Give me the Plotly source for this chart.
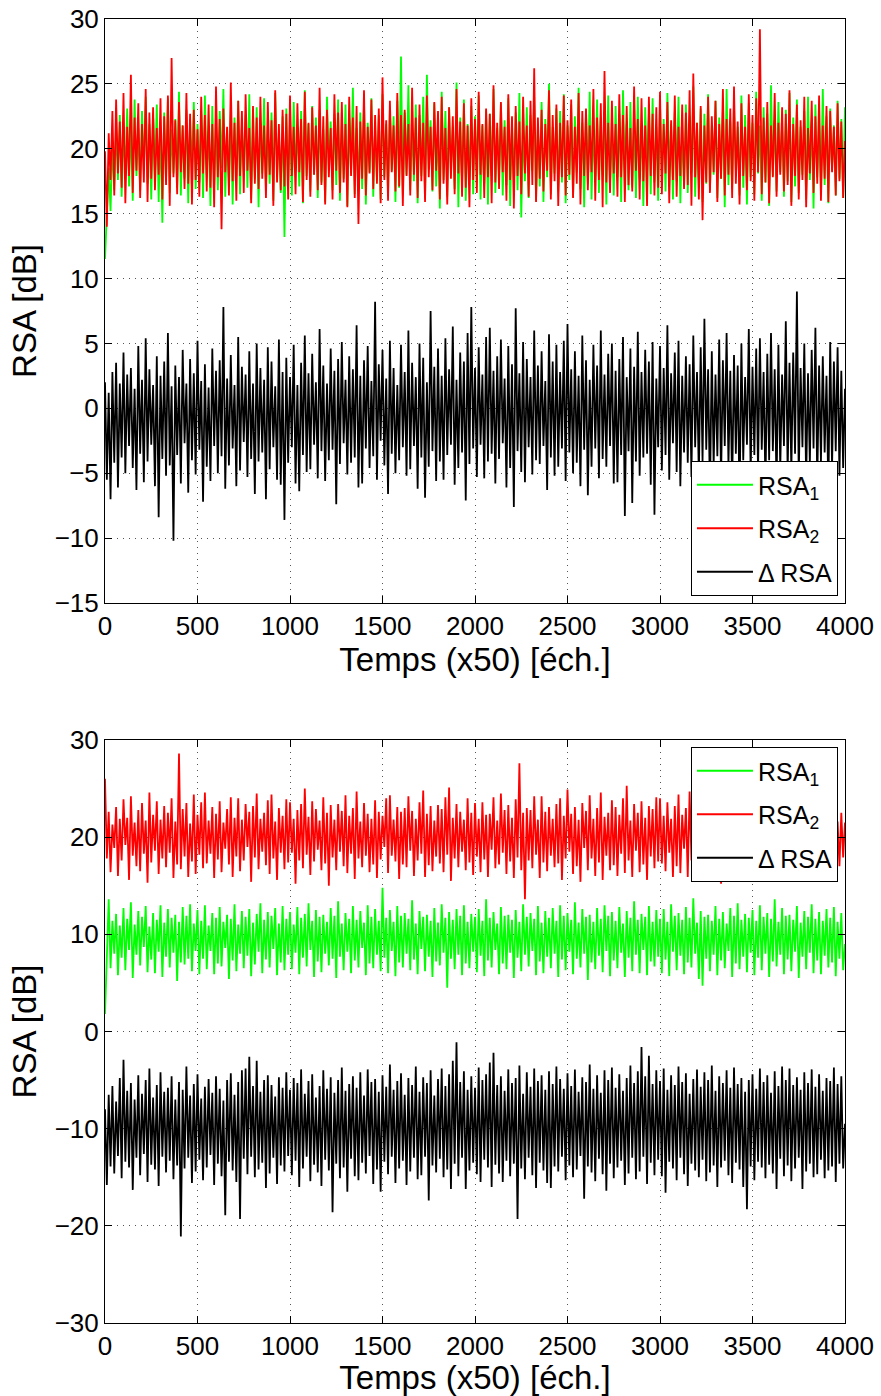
import plotly.graph_objects as go

# Values.  Each noisy series is stored as two hand-read
# lists: its successive peaks (at t = 0, 20, 40, ...) and the troughs between
# them (at t = 10, 30, 50, ...).  Time unit: x50 samples.
step = 10

# ---------------- top panel ----------------
rsa1_top_peaks = [
    11.5, 18.5, 20.5, 21.8, 22.6, 21.4, 23.1, 22.0, 23.8, 21.6, 22.9, 24.0, 21.9, 22.5, 23.4, 21.7, 22.8, 23.9, 21.5, 22.3, 24.4, 21.8, 23.0, 22.2, 23.6,
    21.9, 22.7, 24.1, 21.4, 23.3, 22.1, 22.9, 24.6, 21.6, 23.0, 22.4, 23.7, 21.8, 22.6, 24.2, 21.5, 23.2, 22.0, 23.9, 21.7, 22.8, 24.3, 21.3, 22.5, 23.1,
    22.2, 23.6, 21.6, 22.9, 24.5, 21.9, 23.3, 22.4, 23.0, 21.5, 24.0, 22.1, 22.7, 23.8, 21.8, 23.4, 22.3, 24.7, 21.6, 22.8, 23.5, 22.0, 23.9, 21.7, 22.6,
    24.2, 21.9, 23.1, 22.5, 23.7, 27.1, 22.8, 24.9, 21.8, 23.4, 22.6, 24.0, 25.7, 22.2, 23.5, 21.6, 24.4, 22.9, 23.2, 21.7, 25.1, 22.4, 23.8, 21.9, 23.3,
    22.5, 24.1, 21.8, 23.0, 22.7, 24.6, 21.6, 23.5, 22.2, 23.9, 21.9, 22.8, 24.3, 21.5, 23.2, 22.6, 24.0, 21.8, 23.6, 22.3, 25.0, 21.7, 23.1, 22.9, 24.2,
    21.8, 23.4, 22.5, 24.7, 22.0, 23.0, 24.4, 21.7, 23.8, 22.4, 22.9, 24.1, 21.6, 23.3, 22.7, 24.5, 21.9, 23.6, 22.2, 24.0, 21.8, 23.2, 22.6, 23.9, 21.7,
    23.5, 22.3, 24.3, 21.9, 22.8, 24.0, 21.6, 23.4, 22.5, 24.8, 22.0, 23.1, 22.7, 24.2, 21.8, 23.7, 22.4, 23.0, 24.6, 22.1, 23.3, 21.7, 24.1, 22.6, 23.5,
    22.0, 24.4, 21.8, 23.2, 22.7, 24.9, 22.2, 23.6, 21.9, 23.0, 24.3, 22.4, 23.8, 21.7, 22.9, 24.0, 22.1, 23.4, 21.9, 24.6, 22.5, 23.1, 21.8, 23.7, 22.3,
    23.2,
]
rsa1_top_troughs = [
    14.5, 15.2, 16.8, 17.6, 16.3, 18.2, 17.1, 16.0, 17.9, 16.7, 18.4, 17.3, 16.1, 17.8, 15.9, 14.3, 17.5, 16.6, 18.1, 17.0, 16.4, 17.7, 15.8, 18.3, 16.9,
    17.4, 16.2, 18.0, 15.6, 17.2, 16.8, 18.5, 16.3, 17.6, 15.7, 17.9, 16.5, 18.2, 17.0, 16.1, 17.7, 15.5, 18.1, 16.9, 17.3, 16.0, 17.8, 16.6, 13.2, 17.5,
    16.4, 18.3, 17.1, 15.8, 17.9, 16.7, 18.0, 16.2, 17.4, 15.9, 18.4, 16.8, 17.2, 16.0, 17.7, 15.6, 18.1, 16.5, 17.3, 16.9, 15.7, 18.2, 16.3, 17.6, 16.1,
    17.8, 16.6, 18.3, 15.9, 17.0, 16.4, 18.0, 16.8, 17.5, 15.8, 17.9, 16.2, 18.4, 16.7, 17.1, 15.4, 17.6, 16.3, 18.1, 16.9, 15.5, 17.4, 16.0, 17.8, 16.5,
    18.2, 16.1, 17.3, 15.7, 17.9, 16.6, 18.0, 16.4, 17.2, 15.6, 17.7, 16.8, 14.7, 17.5, 16.2, 18.3, 16.0, 17.1, 15.9, 17.8, 16.5, 18.1, 16.7, 17.4, 15.8,
    17.6, 16.3, 18.2, 16.9, 15.5, 17.3, 16.1, 17.9, 16.6, 18.0, 15.7, 17.2, 16.4, 17.8, 15.9, 18.3, 16.8, 17.0, 16.2, 17.7, 15.6, 18.1, 16.5, 17.4, 16.0,
    17.9, 16.7, 18.4, 16.1, 17.5, 15.8, 17.1, 16.6, 18.2, 16.3, 17.6, 15.9, 17.3, 16.8, 18.0, 16.2, 17.7, 15.5, 17.2, 16.9, 18.3, 16.4, 17.0, 15.7, 17.8,
    16.5, 18.1, 16.0, 17.4, 15.6, 17.9, 16.7, 18.2, 16.3, 17.5, 15.9, 17.1, 16.6, 18.0, 16.1, 17.6, 15.4, 17.8, 16.8, 17.2, 15.8, 18.3, 16.4, 17.7, 16.2,
]
rsa2_top_peaks = [
    19.8, 21.2, 22.9, 23.8, 22.1, 24.3, 21.7, 25.7, 22.4, 23.5, 21.9, 24.6, 22.8, 23.2, 21.6, 23.9, 22.5, 24.1, 27.0, 22.2, 23.6, 21.8, 24.3, 22.7, 23.0,
    21.5, 24.0, 22.6, 23.4, 21.9, 24.8, 22.3, 23.1, 21.7, 25.1, 22.0, 23.7, 22.9, 24.2, 21.6, 23.3, 22.4, 24.0, 21.8, 23.6, 22.2, 24.5, 21.9, 23.0, 22.7,
    24.1, 21.7, 23.5, 22.3, 24.4, 22.0, 23.2, 21.8, 24.7, 22.5, 23.0, 21.6, 24.2, 22.8, 23.6, 21.9, 24.0, 22.4, 23.3, 22.1, 24.5, 21.7, 23.8, 22.6, 23.1,
    25.5, 22.2, 23.7, 21.8, 24.3, 22.6, 23.0, 21.9, 24.7, 22.4, 23.4, 22.0, 24.1, 21.7, 23.6, 22.9, 24.0, 21.6, 23.2, 22.5, 24.6, 22.1, 23.5, 21.8, 23.9,
    22.3, 24.4, 21.9, 23.1, 22.7, 24.9, 22.0, 23.6, 21.7, 24.2, 22.5, 23.3, 22.1, 24.0, 21.8, 23.7, 26.2, 22.4, 23.0, 21.9, 24.5, 22.6, 23.4, 22.0, 24.1,
    22.2, 23.8, 21.7, 24.3, 22.9, 23.1, 21.8, 24.6, 22.4, 23.5, 26.0, 22.0, 23.7, 21.9, 24.2, 22.6, 23.3, 21.6, 24.8, 22.3, 23.9, 21.8, 24.0, 22.7, 23.2,
    24.4, 21.9, 23.6, 22.2, 24.1, 21.7, 23.4, 22.8, 24.5, 25.8, 22.0, 23.3, 21.8, 24.0, 22.5, 23.7, 21.9, 24.6, 22.3, 23.1, 24.8, 22.1, 23.5, 21.7, 24.2,
    22.6, 23.9, 29.2, 22.4, 23.6, 21.8, 24.3, 22.0, 23.2, 22.7, 24.5, 21.9, 23.4, 22.2, 24.0, 21.6, 23.7, 22.5, 24.1, 21.8, 23.3, 22.9, 21.7, 23.5, 22.1,
    20.6,
]
rsa2_top_troughs = [
    14.0, 17.6, 16.4, 18.1, 17.0, 15.8, 17.9, 16.6, 18.3, 16.2, 17.4, 15.9, 17.7, 16.8, 18.0, 16.1, 17.2, 15.6, 17.8, 16.5, 18.2, 16.9, 17.3, 15.7, 17.6,
    16.3, 18.1, 16.7, 17.0, 15.5, 17.8, 13.8, 18.2, 16.4, 17.5, 16.0, 17.9, 16.6, 18.3, 15.8, 17.3, 16.9, 17.7, 16.2, 18.0, 15.6, 17.4, 16.8, 17.1, 16.1,
    17.9, 16.5, 18.2, 15.9, 17.6, 16.3, 18.0, 16.8, 17.2, 15.7, 17.8, 16.1, 18.3, 16.6, 17.4, 15.5, 17.9, 16.2, 14.2, 17.7, 16.4, 18.1, 16.9, 17.3, 15.8,
    17.6, 16.0, 18.2, 16.7, 17.1, 15.6, 17.9, 16.4, 18.0, 16.2, 17.5, 15.9, 17.8, 16.8, 18.3, 16.1, 17.3, 15.7, 17.7, 16.5, 18.1, 16.3, 17.0, 15.5, 17.6,
    16.6, 18.0, 16.2, 17.8, 15.8, 17.4, 16.9, 18.2, 16.0, 17.6, 15.4, 17.9, 16.5, 18.1, 16.3, 17.2, 15.9, 17.7, 16.7, 18.3, 16.1, 17.5, 15.6, 17.8, 16.4,
    18.0, 16.2, 17.3, 15.7, 17.9, 16.8, 18.2, 16.0, 17.6, 15.5, 17.4, 16.6, 18.1, 16.3, 17.8, 15.9, 17.2, 16.7, 18.3, 16.1, 17.5, 15.6, 17.9, 16.4, 17.0,
    16.5, 18.1, 15.8, 17.6, 16.3, 17.9, 16.9, 17.2, 15.6, 17.8, 16.1, 14.5, 17.4, 16.6, 18.2, 15.9, 17.7, 16.4, 18.0, 16.2, 17.3, 15.7, 17.9, 16.8, 17.5,
    16.0, 18.2, 16.5, 17.4, 15.8, 17.8, 16.3, 18.0, 16.7, 17.2, 15.6, 17.9, 16.1, 17.6, 15.5, 18.1, 16.6, 17.3, 16.0, 17.7, 15.9, 18.2, 16.4, 17.5, 16.2,
]
drsa_top_peaks = [
    2.0, 1.2, 2.8, 3.5, 1.9, 4.3, 2.6, 3.1, 1.5, 4.8, 2.2, 5.4, 3.0, 1.8, 4.0, 2.5, 3.6, 5.8, 1.7, 3.3, 2.4, 4.5, 1.9, 3.8, 2.7,
    5.2, 2.1, 3.4, 1.6, 4.6, 2.9, 3.7, 7.8, 2.3, 4.1, 1.8, 5.5, 3.2, 2.6, 4.4, 1.9, 5.0, 3.1, 2.2, 4.7, 3.6, 1.7, 5.3, 2.8, 3.9,
    2.4, 4.9, 1.8, 3.5, 5.6, 2.7, 4.2, 2.0, 6.1, 3.3, 1.9, 4.6, 2.9, 3.8, 5.1, 2.2, 4.0, 3.0, 6.4, 2.5, 3.7, 4.8, 2.1, 8.2, 3.4,
    4.5, 2.3, 5.2, 3.1, 1.8, 4.9, 2.8, 6.0, 3.5, 2.4, 5.0, 3.9, 2.0, 7.5, 3.2, 4.6, 2.5, 5.4, 3.0, 6.3, 2.2, 4.3, 3.6, 5.8, 7.8,
    3.1, 4.7, 2.6, 5.5, 6.2, 2.9, 4.0, 5.3, 2.3, 4.8, 3.4, 7.7, 2.7, 5.1, 3.8, 2.4, 6.0, 3.3, 4.4, 2.1, 5.7, 3.6, 4.9, 2.8, 5.2,
    6.5, 3.0, 4.4, 2.5, 5.6, 3.7, 2.2, 4.9, 3.3, 6.0, 2.6, 4.2, 5.0, 2.9, 3.8, 5.5, 2.4, 4.6, 3.2, 5.9, 2.8, 4.5, 3.6, 5.1, 2.3,
    4.8, 3.1, 6.4, 2.7, 4.3, 5.2, 2.5, 4.0, 3.4, 5.6, 2.8, 4.7, 6.9, 3.0, 4.4, 2.6, 5.3, 3.7, 5.8, 2.9, 4.1, 3.3, 5.0, 2.4, 6.1,
    3.2, 4.6, 5.4, 2.8, 4.2, 5.8, 3.0, 4.9, 2.6, 6.7, 3.5, 4.3, 9.0, 3.1, 5.0, 2.7, 4.5, 6.2, 3.3, 4.0, 2.5, 5.1, 3.6, 4.7, 2.9,
    1.5,
]
drsa_top_troughs = [
    -5.5, -7.0, -4.2, -6.1, -3.8, -5.0, -2.9, -4.6, -6.3, -3.5, -5.7, -4.1, -2.8, -6.0, -8.4, -3.9, -5.2, -4.4, -10.2, -3.6, -5.8, -2.7, -6.5, -4.0, -5.1,
    -3.2, -7.2, -4.5, -5.6, -2.9, -5.0, -3.7, -6.2, -4.4, -3.1, -6.0, -4.8, -2.6, -5.3, -3.9, -6.6, -4.1, -3.4, -7.0, -4.7, -3.0, -5.5, -5.9, -8.6, -4.2,
    -3.0, -5.8, -6.4, -3.6, -4.9, -4.7, -2.8, -5.4, -3.3, -5.6, -4.0, -3.2, -7.4, -4.3, -2.7, -5.1, -4.2, -3.8, -6.1, -5.8, -3.1, -4.6, -3.7, -5.5, -2.5,
    -4.4, -6.6, -3.5, -5.0, -4.0, -3.0, -5.2, -4.7, -2.9, -6.2, -3.8, -6.9, -4.5, -3.3, -5.6, -4.1, -5.5, -3.6, -2.8, -5.9, -4.6, -3.4, -7.1, -4.3, -3.1,
    -5.3, -2.8, -5.4, -4.1, -3.5, -5.8, -3.9, -2.7, -6.1, -4.6, -7.6, -3.3, -4.9, -5.7, -3.0, -5.1, -4.0, -4.3, -2.9, -6.3, -3.8, -5.2, -4.5, -3.1, -5.6,
    -3.4, -5.0, -4.2, -6.0, -3.2, -6.7, -4.5, -3.1, -5.4, -3.9, -4.5, -2.9, -5.8, -5.7, -3.6, -8.3, -3.3, -7.3, -4.1, -5.2, -3.8, -3.5, -5.9, -8.2, -3.0,
    -4.8, -3.6, -5.5, -2.7, -4.9, -6.0, -3.4, -4.2, -5.3, -3.0, -5.3, -4.1, -3.2, -6.8, -4.4, -3.7, -5.6, -2.9, -4.4, -6.2, -3.5, -7.5, -4.0, -2.8, -5.1,
    -3.6, -4.9, -3.2, -6.1, -4.0, -3.3, -6.2, -4.7, -2.9, -5.0, -4.9, -3.5, -5.4, -3.0, -5.6, -4.3, -3.1, -5.8, -4.1, -3.4, -6.5, -4.6, -3.3, -5.2, -4.6,
]

# ---------------- bottom panel ----------------
rsa1_bot_peaks = [
    1.8, 13.6, 11.4, 12.1, 10.9, 12.7, 11.6, 13.3, 11.0, 12.4, 11.8, 12.9, 10.8, 12.2, 11.5, 13.0, 11.2, 12.6, 11.7, 12.0, 11.3, 12.8, 11.9, 13.1, 11.1,
    12.5, 11.4, 13.0, 10.9, 12.2, 11.7, 12.8, 11.3, 12.0, 11.6, 13.1, 11.0, 12.4, 11.8, 12.6, 11.2, 12.1, 13.2, 11.5, 12.3, 11.9, 12.7, 11.1, 12.9, 11.6,
    12.3, 11.0, 12.8, 11.7, 12.1, 13.2, 11.4, 12.5, 11.8, 12.0, 11.3, 12.7, 11.9, 13.4, 11.1, 12.2, 11.6, 12.9, 11.5, 12.4, 11.2, 13.0, 11.8, 12.6, 11.4,
    14.8, 11.7, 12.5, 11.3, 12.9, 11.9, 12.2, 11.6, 13.5, 11.1, 12.4, 11.8, 12.0, 11.4, 12.7, 11.2, 13.1, 11.7, 12.3, 11.5, 12.6, 11.9, 13.0, 11.3, 12.1,
    11.8, 12.6, 11.4, 13.6, 11.7, 12.3, 11.1, 12.8, 11.9, 12.0, 11.5, 12.5, 11.3, 13.1, 11.8, 12.2, 11.6, 12.9, 11.2, 12.4, 11.7, 12.7, 11.4, 13.0, 11.9,
    12.2, 11.5, 13.3, 11.2, 12.6, 11.8, 12.0, 11.3, 12.7, 11.6, 13.0, 11.9, 12.3, 11.4, 12.8, 11.1, 12.4, 11.7, 13.4, 11.5, 12.1, 11.8, 12.9, 11.3, 12.5,
    11.6, 12.6, 11.3, 13.1, 11.9, 12.2, 11.5, 12.8, 11.7, 13.7, 11.2, 12.4, 11.8, 12.0, 11.4, 12.9, 11.6, 12.3, 11.1, 12.7, 11.9, 13.2, 11.5, 12.1, 11.7,
    12.5, 11.4, 13.0, 11.8, 12.2, 11.6, 13.6, 11.3, 12.7, 11.9, 12.0, 11.5, 12.9, 11.2, 12.4, 11.8, 13.1, 11.6, 12.3, 11.4, 12.6, 11.7, 12.8, 11.3, 12.2,
    9.0,
]
rsa1_bot_troughs = [
    7.2, 6.5, 8.0, 5.8, 7.6, 6.3, 8.4, 5.5, 7.9, 6.8, 8.7, 6.1, 7.4, 6.0, 8.2, 5.6, 7.7, 6.6, 8.1, 5.2, 7.1, 6.9, 7.5, 6.2, 8.3,
    5.9, 7.5, 6.4, 8.3, 5.9, 7.0, 6.7, 8.6, 5.4, 7.3, 6.2, 8.0, 6.5, 7.8, 5.7, 6.9, 8.2, 6.0, 7.4, 6.6, 8.5, 5.8, 7.1, 6.3, 7.9,
    6.4, 8.1, 5.9, 7.6, 6.7, 8.4, 5.6, 7.2, 6.1, 8.0, 6.8, 7.5, 5.5, 7.7, 6.3, 8.2, 6.0, 7.3, 6.6, 8.6, 5.8, 7.0, 6.5, 7.9, 6.2,
    7.6, 6.0, 8.3, 5.7, 7.1, 6.6, 8.0, 6.3, 7.4, 5.9, 8.5, 6.2, 7.7, 5.6, 7.2, 6.8, 8.1, 4.5, 7.5, 6.4, 7.9, 5.8, 7.0, 6.5, 8.2,
    6.1, 7.8, 5.7, 7.3, 6.6, 8.4, 5.9, 7.0, 6.4, 8.1, 5.5, 7.6, 6.2, 7.9, 6.7, 8.3, 5.8, 7.2, 6.0, 7.7, 6.5, 8.0, 5.6, 7.4, 6.3,
    8.2, 5.9, 7.5, 6.6, 8.0, 5.3, 7.1, 6.4, 7.8, 6.1, 8.3, 5.7, 7.3, 6.5, 8.1, 5.6, 7.6, 6.2, 7.9, 6.0, 8.4, 5.8, 7.2, 6.7, 7.7,
    6.0, 7.4, 5.7, 8.2, 6.3, 7.8, 5.9, 7.1, 6.6, 8.0, 5.4, 4.7, 7.5, 6.2, 7.9, 5.8, 7.3, 6.5, 8.3, 5.6, 7.0, 6.4, 7.7, 6.1, 8.1,
    5.8, 7.6, 6.3, 8.0, 5.6, 7.2, 6.7, 7.9, 5.9, 7.4, 6.2, 8.2, 5.5, 7.7, 6.4, 8.1, 6.0, 7.3, 5.9, 7.8, 6.6, 7.1, 5.7, 7.5, 6.3,
]
rsa2_bot_peaks = [
    26.0, 22.6, 21.3, 23.1, 21.9, 23.9, 22.0, 24.2, 21.5, 22.8, 23.5, 21.7, 24.6, 22.3, 23.7, 21.8, 23.2, 22.5, 24.0, 21.6, 28.6, 22.9, 23.5, 21.4, 24.4,
    22.3, 23.6, 24.6, 21.7, 23.1, 22.4, 23.7, 21.5, 22.9, 24.1, 22.0, 24.0, 21.8, 23.4, 22.6, 23.2, 24.5, 21.9, 22.5, 23.8, 24.4, 21.6, 23.0, 22.2, 23.9,
    23.6, 21.9, 22.8, 23.4, 25.0, 22.1, 23.7, 22.9, 21.7, 24.1, 22.5, 23.3, 21.8, 23.4, 22.7, 24.3, 22.2, 23.0, 24.7, 21.6, 23.5, 22.4, 21.9, 23.8, 22.6,
    22.2, 24.0, 24.3, 21.8, 23.1, 22.6, 23.0, 24.2, 22.7, 21.9, 23.6, 24.8, 22.4, 23.2, 21.7, 23.3, 22.9, 24.1, 25.1, 22.0, 23.4, 22.6, 21.8, 24.0, 22.5,
    23.5, 21.9, 23.6, 22.3, 22.4, 24.1, 21.7, 24.5, 22.8, 23.3, 22.0, 23.9, 27.6, 22.5, 23.0, 22.8, 24.2, 21.8, 24.2, 22.6, 23.1, 21.9, 23.4, 24.0, 22.2,
    24.9, 22.4, 23.1, 21.8, 23.5, 22.7, 24.3, 21.9, 23.0, 24.6, 22.1, 22.5, 23.8, 23.1, 22.3, 24.0, 25.3, 21.7, 23.4, 22.5, 23.7, 22.0, 23.2, 22.9, 24.1,
    24.0, 22.2, 23.6, 21.9, 23.2, 24.4, 22.3, 23.0, 24.7, 21.8, 22.9, 23.5, 22.1, 23.8, 22.4, 22.6, 24.2, 24.3, 21.7, 23.1, 22.0, 23.7, 23.5, 22.5, 24.0,
    22.4, 24.5, 21.9, 22.7, 23.4, 23.0, 22.2, 21.5, 23.8, 24.1, 22.0, 22.4, 23.3, 23.6, 21.8, 23.2, 21.7, 22.6, 23.9, 22.3, 22.2, 23.5, 21.9, 21.6, 22.5,
    21.5,
]
rsa2_bot_troughs = [
    17.8, 16.4, 18.9, 16.0, 17.6, 19.2, 15.6, 18.1, 17.0, 16.5, 18.3, 15.3, 17.4, 18.6, 16.2, 17.8, 16.9, 18.4, 15.8, 17.2, 16.7, 18.0, 15.9, 17.5, 16.2,
    18.2, 16.8, 17.3, 18.3, 15.8, 17.7, 16.4, 18.8, 17.2, 15.9, 18.0, 16.5, 17.6, 19.0, 15.4, 17.9, 16.7, 18.5, 17.1, 16.2, 17.8, 15.6, 18.4, 16.7, 17.4,
    18.4, 15.2, 17.6, 16.8, 18.2, 16.1, 17.5, 18.7, 16.6, 17.3, 15.0, 17.9, 16.6, 18.5, 17.0, 16.3, 18.3, 15.7, 17.8, 16.9, 18.1, 16.4, 17.2, 15.8, 17.7,
    19.0, 16.3, 18.1, 17.5, 15.7, 17.2, 16.9, 18.6, 16.0, 17.6, 18.3, 15.9, 17.1, 16.5, 18.0, 17.3, 16.4, 18.2, 15.5, 17.8, 16.9, 18.5, 16.6, 17.4, 16.1,
    18.0, 16.4, 17.7, 15.9, 18.7, 16.8, 17.2, 18.4, 16.2, 17.5, 15.8, 17.9, 16.6, 13.6, 17.6, 16.8, 18.2, 15.8, 17.4, 16.5, 18.1, 16.9, 17.3, 15.6, 17.8,
    18.5, 16.2, 17.0, 15.4, 18.9, 16.6, 17.8, 16.0, 17.4, 15.6, 18.1, 16.6, 17.1, 16.0, 18.3, 16.3, 17.6, 15.9, 18.6, 16.4, 17.2, 15.6, 18.0, 16.8, 17.5,
    17.3, 16.5, 18.4, 15.9, 17.0, 16.3, 18.8, 15.9, 17.6, 16.6, 17.1, 18.2, 16.0, 17.5, 16.3, 18.0, 15.2, 17.7, 16.8, 18.1, 16.1, 17.4, 15.8, 17.9, 16.4,
    17.6, 15.7, 18.3, 16.4, 17.0, 15.5, 18.2, 16.9, 17.4, 15.8, 18.0, 16.2, 17.2, 15.6, 17.8, 16.1, 15.5, 18.5, 16.3, 17.1, 15.8, 18.4, 16.7, 17.0, 17.9,
]
drsa_bot_peaks = [
    -8.0, -6.5, -5.6, -7.2, -4.8, -2.9, -6.1, -5.3, -7.0, -4.5, -6.4, -5.0, -3.8, -6.8, -5.5, -4.2, -6.2, -5.8, -4.6, -7.0, -5.2, -6.0, -3.6, -6.6, -5.4,
    -4.4, -6.9, -5.7, -4.9, -6.3, -4.6, -5.9, -7.1, -5.0, -4.3, -6.5, -5.2, -4.0, -3.8, -2.6, -5.6, -3.0, -6.2, -5.0, -4.5, -5.5, -6.7, -4.7, -5.8, -4.2,
    -6.0, -4.8, -5.3, -3.9, -6.4, -5.1, -4.4, -6.8, -5.6, -4.0, -5.9, -4.7, -6.3, -5.0, -3.7, -6.1, -5.4, -4.6, -5.8, -4.2, -6.6, -3.9, -5.2, -4.9, -6.2,
    -4.5, -5.7, -3.4, -6.0, -5.1, -4.3, -6.5, -4.8, -5.5, -3.6, -6.2, -4.7, -5.3, -4.0, -6.6, -4.9, -3.8, -5.6, -4.4, -3.0, -1.1, -5.2, -4.1, -6.0, -4.6,
    -5.8, -3.7, -5.0, -4.4, -3.2, -2.2, -5.5, -4.6, -6.1, -3.9, -5.3, -4.8, -3.5, -6.4, -4.2, -5.7, -3.8, -5.1, -4.5, -6.0, -4.1, -5.4, -3.6, -4.9, -5.9,
    -4.3, -5.6, -3.9, -6.2, -4.7, -5.2, -3.4, -5.9, -4.5, -6.3, -4.0, -5.0, -3.7, -5.8, -4.4, -6.1, -4.8, -3.5, -5.3, -4.1, -1.6, -4.6, -2.5, -5.4, -4.0,
    -5.1, -3.8, -6.0, -4.5, -5.5, -3.6, -5.2, -4.3, -6.4, -4.9, -3.9, -5.7, -4.2, -5.0, -3.5, -6.1, -4.6, -5.3, -4.0, -5.8, -3.7, -5.4, -4.8, -6.2, -5.0,
    -4.4, -5.9, -3.8, -5.2, -4.5, -6.3, -4.1, -5.6, -3.6, -5.0, -3.8, -5.5, -4.7, -6.0, -4.2, -5.3, -3.9, -5.7, -4.4, -6.1, -4.8, -5.1, -3.7, -5.4, -4.6,
    -9.5,
]
drsa_bot_troughs = [
    -15.8, -13.9, -14.6, -12.8, -15.1, -13.4, -14.0, -16.3, -13.0, -14.8, -12.6, -15.5, -13.7, -14.2, -15.9, -12.9, -14.5, -13.3, -15.2, -13.8, -21.1, -14.1, -13.0, -15.6, -14.4,
    -13.2, -15.3, -14.0, -12.7, -15.8, -13.6, -14.9, -18.9, -13.4, -14.3, -15.5, -19.3, -13.1, -14.7, -12.9, -15.0, -14.2, -13.5, -16.1, -14.6, -13.0, -15.7, -13.8, -14.4, -12.8,
    -14.8, -13.3, -16.0, -14.1, -12.9, -15.4, -13.7, -14.5, -15.9, -13.2, -14.3, -18.6, -13.6, -15.1, -14.0, -16.5, -13.1, -14.9, -15.3, -13.5, -14.6, -12.8, -15.7, -14.2, -16.5,
    -13.4, -14.7, -12.9, -15.6, -14.1, -13.3, -15.8, -14.4, -13.0, -15.2, -14.8, -12.9, -17.4, -13.8, -14.5, -13.1, -15.0, -14.2, -16.2, -13.6, -14.9, -13.0, -16.2, -14.3, -13.5,
    -14.7, -15.5, -13.2, -14.0, -16.0, -13.7, -14.6, -15.5, -13.3, -14.9, -13.6, -19.3, -14.1, -15.2, -13.0, -14.8, -16.1, -13.5, -14.3, -15.6, -16.1, -13.9, -14.4, -12.9, -15.3,
    -13.8, -15.0, -14.2, -12.8, -17.2, -13.9, -14.5, -15.4, -13.1, -14.7, -16.4, -13.6, -15.1, -14.0, -13.3, -15.8, -14.6, -13.0, -15.2, -14.4, -12.9, -15.7, -13.5, -14.8, -13.2,
    -14.9, -16.6, -13.4, -14.1, -15.3, -13.0, -14.7, -15.9, -13.6, -14.3, -15.0, -13.2, -15.4, -14.5, -13.8, -16.0, -14.0, -13.3, -14.8, -15.6, -13.5, -14.2, -16.0, -18.3, -13.9,
    -15.3, -13.4, -14.0, -15.1, -13.7, -14.6, -16.2, -13.1, -14.9, -13.8, -15.4, -14.1, -13.0, -16.2, -14.4, -13.6, -15.0, -14.7, -13.2, -15.1, -14.3, -13.9, -15.5, -13.6, -14.1,
]

names = ["RSA<sub>1</sub>", "RSA<sub>2</sub>", "\u0394 RSA"]
colors = ["#00ff00", "#ff0000", "#000000"]
x_title = "Temps (x50) [\u00e9ch.]"
y_title = "RSA [dB]"
x_ticks = [0, 500, 1000, 1500, 2000, 2500, 3000, 3500, 4000]

FONT = "Liberation Sans, Arial, Helvetica, sans-serif"


def merge(peaks, troughs):
    """Rebuild the sample sequence: peak, trough, peak, trough, ..."""
    out = []
    for i, v in enumerate(peaks):
        out.append(v)
        if i < len(troughs):
            out.append(troughs[i])
    return out


fig = go.Figure()

panels = [
    ([(rsa1_top_peaks, rsa1_top_troughs), (rsa2_top_peaks, rsa2_top_troughs),
      (drsa_top_peaks, drsa_top_troughs)], "x", "y", "legend", "t"),
    ([(rsa1_bot_peaks, rsa1_bot_troughs), (rsa2_bot_peaks, rsa2_bot_troughs),
      (drsa_bot_peaks, drsa_bot_troughs)], "x2", "y2", "legend2", "b"),
]
for series, xa, ya, lg, tag in panels:
    for (pk, tr), name, col in zip(series, names, colors):
        y = merge(pk, tr)
        fig.add_trace(go.Scatter(
            x=[i * step for i in range(len(y))], y=y, mode="lines",
            line=dict(color=col, width=1.8), name=name,
            xaxis=xa, yaxis=ya, legend=lg, legendgroup=tag + name,
        ))

axis_common = dict(
    showline=True, linecolor="black", linewidth=1, mirror="ticks",
    ticks="inside", ticklen=7, tickcolor="black", tickwidth=1,
    showgrid=True, gridcolor="#555555", gridwidth=1, griddash="1px,5px",
    zeroline=False, automargin=False,
    tickfont=dict(family=FONT, size=26, color="black"),
)
xaxis_common = dict(axis_common, range=[0, 4000], tickvals=x_ticks,
                    ticktext=[str(v) for v in x_ticks],
                    title=dict(text=x_title, font=dict(family=FONT, size=33, color="black"), standoff=0))
ytitle = dict(text=y_title, font=dict(family=FONT, size=33, color="black"), standoff=8)
legend_common = dict(
    xanchor="right", x=0.9905, bordercolor="black", borderwidth=1, bgcolor="white",
    font=dict(family=FONT, size=25, color="black"), itemwidth=56, tracegroupgap=8,
)

fig.update_layout(
    width=881, height=1396,
    margin=dict(l=105, r=36, t=19, b=73),
    paper_bgcolor="white", plot_bgcolor="white",
    font=dict(family=FONT, color="black"),
    xaxis=dict(xaxis_common, domain=[0, 1], anchor="y"),
    yaxis=dict(axis_common, domain=[0.5522, 1], anchor="x", range=[-15, 30], dtick=5, title=ytitle),
    xaxis2=dict(xaxis_common, domain=[0, 1], anchor="y2"),
    yaxis2=dict(axis_common, domain=[0, 0.4471], anchor="x2", range=[-30, 30], dtick=10, title=ytitle),
    legend=dict(legend_common, y=0.5575, yanchor="bottom"),
    legend2=dict(legend_common, y=0.4417, yanchor="top"),
    showlegend=True,
)

fig.write_html("out.html", config={"displayModeBar": False},
               post_script="document.body.style.margin='0';")
